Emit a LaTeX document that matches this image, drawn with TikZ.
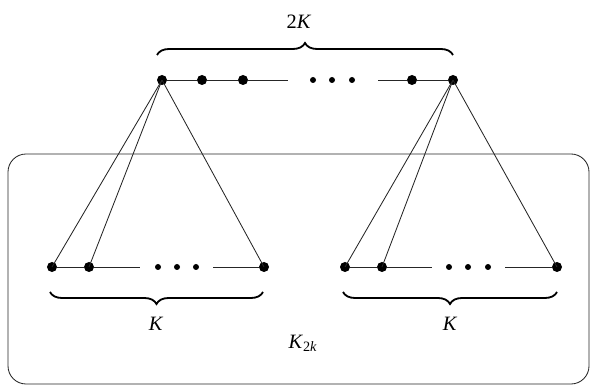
\documentclass[tikz,border=0pt]{standalone}
\usepackage{fontspec}
\setmainfont{Liberation Serif}
\usepackage{tikz}
\usetikzlibrary{positioning, decorations.pathreplacing}

\tikzset{
  vertex/.style={circle, fill=black, inner sep=0pt, minimum size=0.25cm},
  dotsmall/.style={circle, fill=black, inner sep=0pt, minimum size=0.15cm},
  edge/.style={line width=0.6pt, black!85},
  bracebig/.style={decorate, decoration={brace, amplitude=0.3cm}, line width=1.3pt},
  lbl/.style={font=\fontsize{14.5pt}{17pt}\selectfont, inner sep=0pt}
}

\begin{document}
\begin{tikzpicture}[x=0.025cm, y=-0.025cm]
  \useasboundingbox (0,0) rectangle (592,386);
  % K_2k box
  \draw[edge, rounded corners=0.45cm] (8,154) rectangle (589,384);
  \node[lbl] (k2k) at (303,343) {\textit{K}\textsubscript{2\textit{k}}};

  % top path
  \node[vertex] (t1) at (162,80) {};
  \node[vertex] (t2) at (202,80) {};
  \node[vertex] (t3) at (243,80) {};
  \node[vertex] (t4) at (412,80) {};
  \node[vertex] (t5) at (453,80) {};
  \coordinate (tg1) at (288,80);
  \coordinate (tg2) at (378,80);
  \node[dotsmall] (td1) at (313,80) {};
  \node[dotsmall] (td2) at (332,80) {};
  \node[dotsmall] (td3) at (352,80) {};
  \draw[edge] (t1) -- (t2) -- (t3) -- (tg1);
  \draw[edge] (tg2) -- (t4) -- (t5);
  \draw[bracebig] (157,55) -- (453,55);
  \node[lbl] (top) at (299,22) {2\textit{K}};

  % left group
  \node[vertex] (b1) at (52,267) {};
  \node[vertex] (b2) at (89,267) {};
  \node[vertex] (b3) at (264,267) {};
  \coordinate (bg1) at (140,267);
  \coordinate (bg2) at (213,267);
  \node[dotsmall] (bd1) at (158,267) {};
  \node[dotsmall] (bd2) at (177,267) {};
  \node[dotsmall] (bd3) at (196,267) {};
  \draw[edge] (b1) -- (b2) -- (bg1);
  \draw[edge] (bg2) -- (b3);
  \draw[bracebig] (263,292) -- (50,292);
  \node[lbl] (kl) at (156,324) {\textit{K}};

  % right group
  \node[vertex] (c1) at (345,267) {};
  \node[vertex] (c2) at (382,267) {};
  \node[vertex] (c3) at (557,267) {};
  \coordinate (cg1) at (432,267);
  \coordinate (cg2) at (505,267);
  \node[dotsmall] (cd1) at (449,267) {};
  \node[dotsmall] (cd2) at (468,267) {};
  \node[dotsmall] (cd3) at (488,267) {};
  \draw[edge] (c1) -- (c2) -- (cg1);
  \draw[edge] (cg2) -- (c3);
  \draw[bracebig] (557,292) -- (343,292);
  \node[lbl] (kr) at (450,324) {\textit{K}};

  % joins
  \foreach \b in {b1,b2,b3} \draw[edge] (t1.center) -- (\b.center);
  \foreach \c in {c1,c2,c3} \draw[edge] (t5.center) -- (\c.center);
\end{tikzpicture}
\end{document}
